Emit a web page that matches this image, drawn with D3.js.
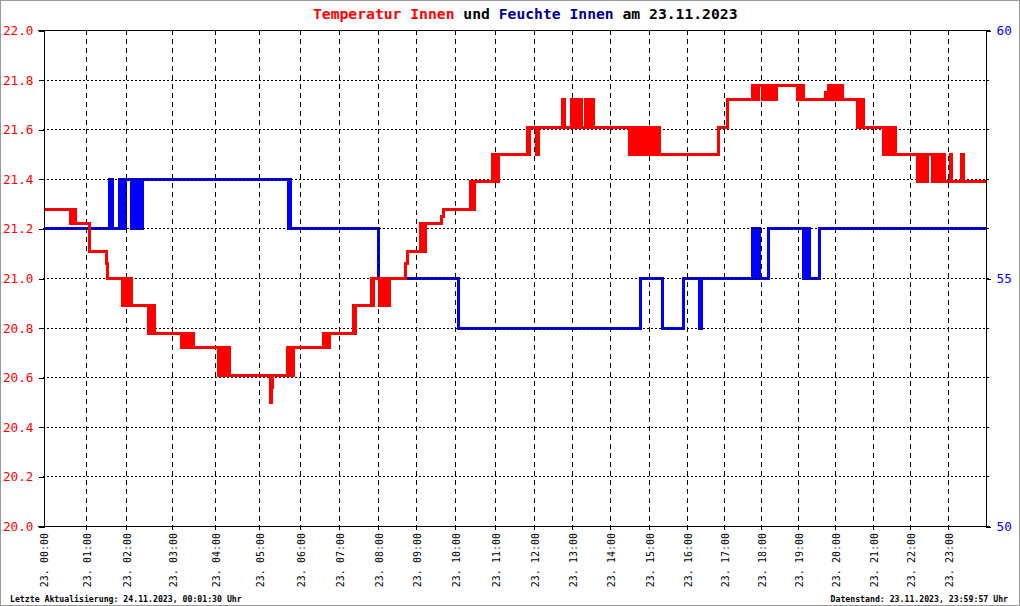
<!DOCTYPE html>
<html><head><meta charset="utf-8">
<script src="https://cdn.jsdelivr.net/npm/d3@7/dist/d3.min.js"></script>
<style>
html,body{margin:0;padding:0;background:#fff;}
svg{display:block;}
</style></head>
<body>
<svg id="chart" width="1020" height="606"></svg>
<script>
// ---- data ----
const titleParts = [
  {text:"Temperatur Innen", color:"#ff0000"},
  {text:" und ", color:"#000000"},
  {text:"Feuchte Innen", color:"#000090"},
  {text:" am 23.11.2023", color:"#000000"}
];
const footerLeft = "Letzte Aktualisierung: 24.11.2023, 00:01:30 Uhr";
const footerRight = "Datenstand: 23.11.2023, 23:59:57 Uhr";
const hourLabels = ["23. 00:00","23. 01:00","23. 02:00","23. 03:00","23. 04:00","23. 05:00","23. 06:00","23. 07:00","23. 08:00","23. 09:00","23. 10:00","23. 11:00","23. 12:00","23. 13:00","23. 14:00","23. 15:00","23. 16:00","23. 17:00","23. 18:00","23. 19:00","23. 20:00","23. 21:00","23. 22:00","23. 23:00"];
// number of readings logged in each hour (x axis runs over reading number)
const readingsPerHour = [43,40,46,43,44,41,39,39,38,39,40,39,38,38,39,38,37,37,37,37,38,37,38,37];
const tempTicks = [20.0,20.2,20.4,20.6,20.8,21.0,21.2,21.4,21.6,21.8,22.0];
const humTicks = [50,55,60];
// [reading number, temperature °C]
const tempReadings = [
[0,21.28],[27,21.22],[28,21.28],[29,21.22],[31,21.28],[32,21.22],
[46,21.11],[63,21.06],[64,21.0],
[79,20.89],[81,21.0],[82,20.89],[84,21.0],[85,20.89],[87,21.0],[88,20.89],
[105,20.78],[106,20.89],[108,20.78],[109,20.89],[111,20.78],
[138,20.72],[139,20.78],[141,20.72],[142,20.78],[144,20.72],[146,20.78],[147,20.72],[149,20.78],[150,20.72],
[175,20.61],[177,20.72],[178,20.61],[180,20.72],[181,20.61],[183,20.72],[184,20.61],[185,20.72],[186,20.61],
[227,20.5],[228,20.56],[229,20.61],
[244,20.72],[245,20.61],[247,20.72],[248,20.61],[250,20.72],
[280,20.78],[281,20.72],[283,20.78],[284,20.72],[286,20.78],
[310,20.89],[311,20.78],[312,20.89],
[328,21.0],[329,20.89],[330,21.0],
[336,20.89],[337,21.0],[338,20.89],[340,21.0],[341,20.89],[343,21.0],[344,20.89],[346,21.0],
[362,21.06],[364,21.11],
[377,21.22],[379,21.11],[382,21.22],
[398,21.25],[400,21.28],
[427,21.39],[428,21.28],[429,21.39],[430,21.28],[431,21.39],
[449,21.5],[450,21.39],[452,21.5],[453,21.39],[455,21.5],
[484,21.61],[485,21.5],[486,21.61],[493,21.5],[495,21.61],
[519,21.72],[521,21.61],
[528,21.72],[529,21.61],[530,21.72],[532,21.61],[533,21.72],[535,21.61],[536,21.72],[538,21.61],
[542,21.72],[543,21.61],[544,21.72],[545,21.61],
[548,21.72],[550,21.61],
[586,21.5],[587,21.61],[588,21.5],[590,21.61],[591,21.5],[593,21.61],[594,21.5],[596,21.61],[597,21.5],[599,21.61],[600,21.5],[602,21.61],[603,21.5],
[606,21.61],[607,21.5],[609,21.61],[610,21.5],[612,21.61],[613,21.5],[615,21.61],[616,21.5],
[675,21.61],[684,21.72],
[709,21.78],[710,21.72],[712,21.78],[713,21.72],[715,21.78],
[719,21.72],[720,21.78],[722,21.72],[723,21.78],[725,21.72],[726,21.78],[728,21.72],[729,21.78],[731,21.72],[733,21.78],
[754,21.72],[755,21.78],[757,21.72],[758,21.78],[760,21.72],
[782,21.75],[784,21.72],[785,21.78],[786,21.72],[788,21.78],[790,21.72],[791,21.78],[793,21.72],[794,21.78],[796,21.72],[797,21.78],[799,21.72],
[814,21.61],[815,21.72],[817,21.61],[818,21.72],[820,21.61],
[840,21.5],[841,21.61],[843,21.5],[844,21.61],[846,21.5],[847,21.61],[849,21.5],[850,21.61],[852,21.5],
[874,21.39],[875,21.5],[877,21.39],[878,21.5],[880,21.39],[881,21.5],[883,21.39],[884,21.5],
[889,21.39],[890,21.5],[892,21.39],[893,21.5],[895,21.39],[896,21.5],[898,21.39],[899,21.5],[901,21.39],
[907,21.5],[908,21.39],[918,21.5],[920,21.39],[942,21.39]
];
// [reading number, relative humidity %]
const humReadings = [
[0,56],[66,57],[69,56],[76,57],[78,56],[79,57],[81,56],[82,57],
[88,56],[89,57],[90,56],[92,57],[93,56],[94,57],[96,56],[99,57],
[245,56],[246,57],[247,56],[335,55],[415,54],[597,55],[619,54],[640,55],
[656,54],[658,55],[709,56],[710,55],[711,56],[713,55],[714,56],[716,55],
[725,56],[760,55],[761,56],[763,55],[764,56],[766,55],[776,56],[942,56]
];

// ---- layout ----
const L=43, R=985, T=30, B=526;
const svg = d3.select("#chart");
const mono = "'DejaVu Sans Mono', 'Liberation Mono', monospace";

const hourStart = [0];
readingsPerHour.forEach((n,i)=>hourStart.push(hourStart[i]+n));
const total = hourStart[hourStart.length-1];

const x = d3.scaleLinear().domain([0,total]).range([L,R]);
const yT = d3.scaleLinear().domain([20,22]).range([B,T]);
const yH = d3.scaleLinear().domain([50,60]).range([B,T]);

svg.append("rect").attr("x",0.5).attr("y",0.5).attr("width",1019).attr("height",605)
  .attr("fill","#fff").attr("stroke","#999");

// humidity line (drawn below grid)
const hLine = d3.line().x(d=>Math.round(x(d[0]))+0.5).y(d=>Math.round(yH(d[1]))+0.5).curve(d3.curveStepAfter);
svg.append("path").datum(humReadings).attr("d",hLine)
  .attr("fill","none").attr("stroke","#0000ff").attr("stroke-width",3)
  .attr("shape-rendering","crispEdges");

// grid
const grid = svg.append("g").attr("shape-rendering","crispEdges");
grid.selectAll("line.h").data(tempTicks.slice(1,-1)).join("line")
  .attr("x1",L).attr("x2",R+5)
  .attr("y1",d=>Math.round(yT(d))+0.5).attr("y2",d=>Math.round(yT(d))+0.5)
  .attr("stroke","#000").attr("stroke-dasharray","2,2");
grid.selectAll("line.v").data(hourStart.slice(1,-1)).join("line")
  .attr("x1",d=>Math.round(x(d))+0.5).attr("x2",d=>Math.round(x(d))+0.5)
  .attr("y1",T).attr("y2",B+5)
  .attr("stroke","#000").attr("stroke-dasharray","5,4");

// temperature line
const tLine = d3.line().x(d=>Math.round(x(d[0]))+0.5).y(d=>Math.round(yT(d[1]))+0.5).curve(d3.curveStepAfter);
svg.append("path").datum(tempReadings).attr("d",tLine)
  .attr("fill","none").attr("stroke","#ff0000").attr("stroke-width",3)
  .attr("shape-rendering","crispEdges");

// frame lines
const frame = svg.append("g").attr("stroke","#000").attr("shape-rendering","crispEdges");
frame.append("line").attr("x1",L-5).attr("x2",R+5).attr("y1",T+0.5).attr("y2",T+0.5);
frame.append("line").attr("x1",L-5).attr("x2",R+5).attr("y1",B+0.5).attr("y2",B+0.5);

// left axis
const axL = svg.append("g").attr("transform",`translate(${L+0.5},0.5)`)
  .call(d3.axisLeft(yT).tickValues(tempTicks).tickSize(5).tickPadding(5).tickFormat(d3.format(".1f")));
axL.selectAll("text").attr("fill","#ff0000").style("font-family",mono).style("font-size","12.7px");
axL.selectAll("line,path").attr("stroke","#000").attr("shape-rendering","crispEdges");

// right axis
const axR = svg.append("g").attr("transform",`translate(${R+0.5},0.5)`)
  .call(d3.axisRight(yH).tickValues(humTicks).tickSize(5).tickPadding(6).tickFormat(d3.format("d")));
axR.selectAll("text").attr("fill","#0000ff").style("font-family",mono).style("font-size","12.7px");
axR.selectAll("line,path").attr("stroke","#000").attr("shape-rendering","crispEdges");

// hour labels (rotated)
svg.append("g").selectAll("text").data(hourLabels).join("text")
  .attr("transform",(d,i)=>`translate(${Math.round(x(hourStart[i]))+1},533) rotate(-90)`)
  .attr("text-anchor","end").attr("dy","0.35em")
  .style("font-family",mono).style("font-size","10px").attr("fill","#000")
  .text(d=>d);

// title
const title = svg.append("text").attr("x",313).attr("y",18.5).attr("xml:space","preserve")
  .style("font-family",mono).style("font-size","14.7px").style("font-weight","bold");
title.selectAll("tspan").data(titleParts).join("tspan")
  .attr("fill",d=>d.color).text(d=>d.text);

// footers
svg.append("text").attr("x",10).attr("y",602).text(footerLeft)
  .style("font-family",mono).style("font-size","8.2px").style("font-weight","bold").attr("fill","#000");
svg.append("text").attr("x",1008).attr("y",602).attr("text-anchor","end").text(footerRight)
  .style("font-family",mono).style("font-size","8.2px").style("font-weight","bold").attr("fill","#000");
</script>
</body></html>
